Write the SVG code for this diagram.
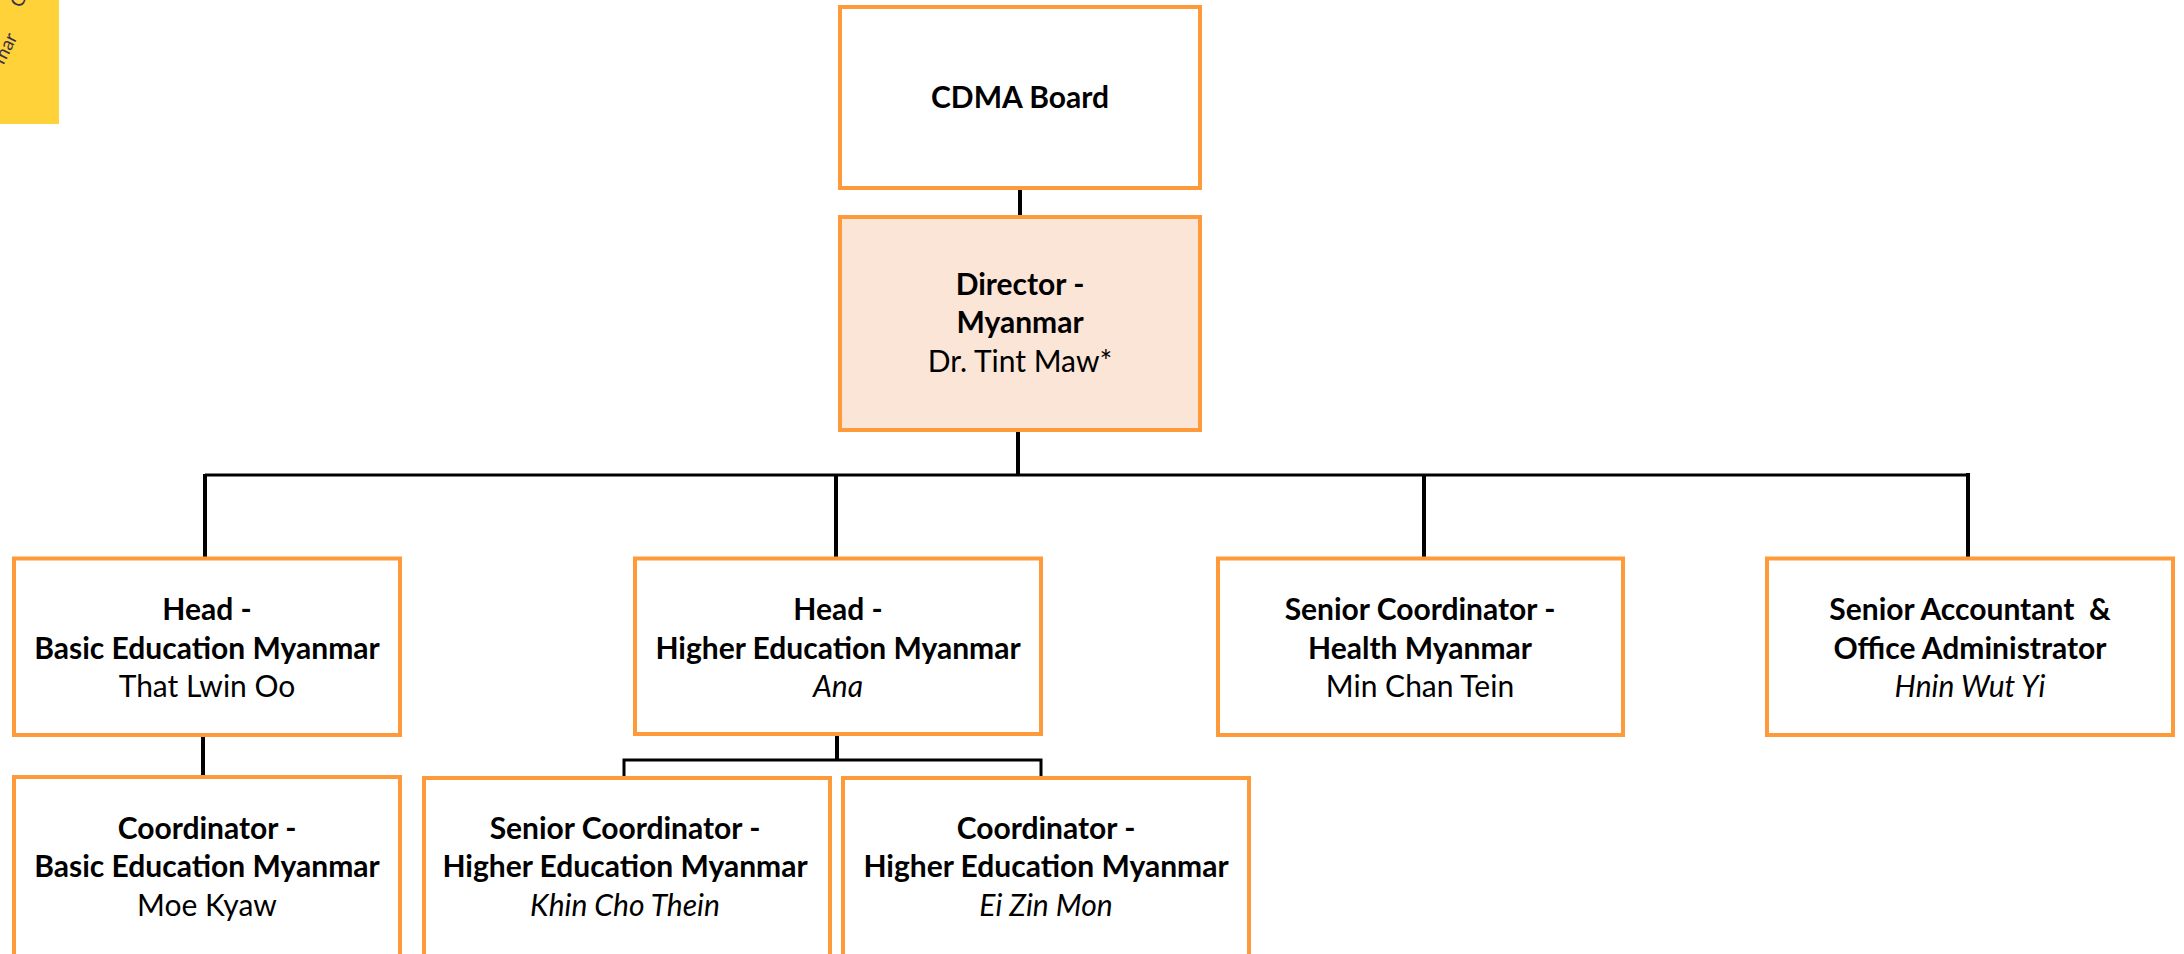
<svg xmlns="http://www.w3.org/2000/svg" width="2184" height="954" viewBox="0 0 2184 954">
<style>
.box{fill:#ffffff;stroke:#FF9A3A;stroke-width:4}
.dir{fill:#FBE5D6}
.t{font-family:Lato,"Liberation Sans",sans-serif;font-size:30px;fill:#000;text-anchor:middle}
.b{font-weight:bold}
.i{font-style:italic}
.ln{stroke:#000;stroke-width:4;fill:none}
.bus{stroke:#000;stroke-width:3;fill:none}
.tag{font-family:Lato,"Liberation Sans",sans-serif;font-size:19px;fill:#3A2F4A}
</style>
<defs>
<clipPath id="yc"><rect x="0" y="0" width="59" height="124"/></clipPath>
</defs>
<g id="tag">
<rect x="0" y="0" width="59" height="124" fill="#FFD23A"/>
<g clip-path="url(#yc)">
<text class="tag" x="18" y="37" transform="rotate(-63 18 37)" text-anchor="end">mar</text>
<text class="tag" x="24" y="3" transform="rotate(-63 24 3)" text-anchor="middle">C</text>
</g>
</g>
<g id="connectors">
<line class="ln" x1="1020" y1="188" x2="1020" y2="217"/>
<line class="ln" x1="1018" y1="430" x2="1018" y2="475"/>
<line class="bus" x1="205" y1="475" x2="1968" y2="475"/>
<line class="ln" x1="205" y1="474" x2="205" y2="558"/>
<line class="ln" x1="836" y1="475" x2="836" y2="558"/>
<line class="ln" x1="1424" y1="475" x2="1424" y2="558"/>
<line class="ln" x1="1968" y1="473" x2="1968" y2="558"/>
<line class="ln" x1="203" y1="735" x2="203" y2="777"/>
<line class="ln" x1="837" y1="734" x2="837" y2="760"/>
<polyline class="bus" points="624,778 624,760 1041,760 1041,778"/>
</g>
<g id="cdma-board">
<rect class="box" x="840" y="7" width="360" height="181"/>
<text class="t b" x="1020" y="108">CDMA Board</text>
</g>
<g id="director">
<rect class="box dir" x="840" y="217" width="360" height="213"/>
<text class="t b" x="1020" y="295">Director -</text>
<text class="t b" x="1020" y="333">Myanmar</text>
<text class="t" x="1020" y="372">Dr. Tint Maw*</text>
</g>
<g id="head-basic">
<rect class="box" x="14" y="558.5" width="386" height="176.5"/>
<text class="t b" x="207" y="620">Head -</text>
<text class="t b" x="207" y="658.5">Basic Education Myanmar</text>
<text class="t" x="207" y="697">That Lwin Oo</text>
</g>
<g id="head-higher">
<rect class="box" x="635" y="558.5" width="406" height="175.5"/>
<text class="t b" x="838" y="620">Head -</text>
<text class="t b" x="838" y="658.5">Higher Education Myanmar</text>
<text class="t i" x="838" y="697">Ana</text>
</g>
<g id="health">
<rect class="box" x="1218" y="558.5" width="405" height="176.5"/>
<text class="t b" x="1420" y="620">Senior Coordinator -</text>
<text class="t b" x="1420" y="658.5">Health Myanmar</text>
<text class="t" x="1420" y="697">Min Chan Tein</text>
</g>
<g id="accountant">
<rect class="box" x="1767" y="558.5" width="406" height="176.5"/>
<text class="t b" x="1970" y="620" xml:space="preserve">Senior Accountant  &amp;</text>
<text class="t b" x="1970" y="658.5">Office Administrator</text>
<text class="t i" x="1970" y="697">Hnin Wut Yi</text>
</g>
<g id="coord-basic">
<rect class="box" x="14" y="777" width="386" height="183"/>
<text class="t b" x="207" y="838.5">Coordinator -</text>
<text class="t b" x="207" y="877">Basic Education Myanmar</text>
<text class="t" x="207" y="915.5">Moe Kyaw</text>
</g>
<g id="senior-coord-higher">
<rect class="box" x="424" y="778" width="406" height="182"/>
<text class="t b" x="625" y="838.5">Senior Coordinator -</text>
<text class="t b" x="625" y="877">Higher Education Myanmar</text>
<text class="t i" x="625" y="915.5">Khin Cho Thein</text>
</g>
<g id="coord-higher">
<rect class="box" x="843" y="778" width="406" height="182"/>
<text class="t b" x="1046" y="838.5">Coordinator -</text>
<text class="t b" x="1046" y="877">Higher Education Myanmar</text>
<text class="t i" x="1046" y="915.5">Ei Zin Mon</text>
</g>
</svg>
